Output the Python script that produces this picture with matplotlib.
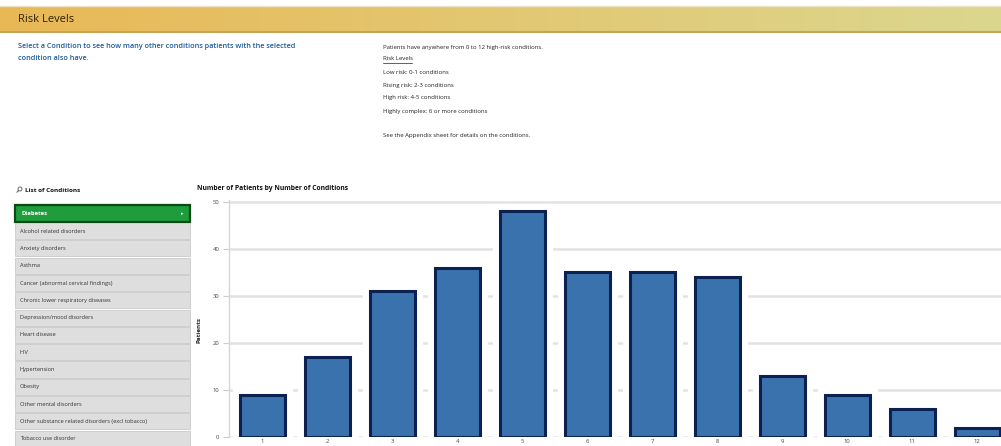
import matplotlib.pyplot as plt
from matplotlib.patches import Rectangle, Circle
import numpy as np

# data
num_conditions = [1, 2, 3, 4, 5, 6, 7, 8, 9, 10, 11, 12]
patients = [9, 17, 31, 36, 48, 35, 35, 34, 13, 9, 6, 2]
y_ticks = [0, 10, 20, 30, 40, 50]

conditions = [
    "Diabetes",
    "Alcohol related disorders",
    "Anxiety disorders",
    "Asthma",
    "Cancer (abnormal cervical findings)",
    "Chronic lower respiratory diseases",
    "Depression/mood disorders",
    "Heart disease",
    "HIV",
    "Hypertension",
    "Obesity",
    "Other mental disorders",
    "Other substance related disorders (excl tobacco)",
    "Tobacco use disorder",
]

info_lines = [
    "Patients have anywhere from 0 to 12 high-risk conditions.",
    "Risk Levels",
    "Low risk: 0-1 conditions",
    "Rising risk: 2-3 conditions",
    "High risk: 4-5 conditions",
    "Highly complex: 6 or more conditions",
    "",
    "See the Appendix sheet for details on the conditions.",
]

W, H = 1001, 446
plt.rcParams['font.family'] = ['Open Sans', 'DejaVu Sans']
fig = plt.figure(figsize=(W / 100, H / 100), dpi=100)

# overlay axes in pixel coordinates
bg = fig.add_axes([0, 0, 1, 1])
bg.set_xlim(0, W)
bg.set_ylim(H, 0)
bg.axis('off')

# header bar with gradient
grad = np.linspace(0, 1, 256)
c0 = np.array([0.914, 0.722, 0.337])
c1 = np.array([0.859, 0.843, 0.561])
img = (c0[None, :] * (1 - grad[:, None]) + c1[None, :] * grad[:, None])[None, :, :]
bg.imshow(img, extent=[0, W, 32, 6], aspect='auto', zorder=1)
bg.plot([0, W], [32, 32], color='#c4a654', lw=1.5, zorder=2)
bg.plot([0, W], [5.5, 5.5], color='#ece3c4', lw=1, zorder=2)
bg.text(18, 19, "Risk Levels", fontsize=8, color='#2b2208', va='center', ha='left', zorder=3)

bg.text(18, 47, "Select a Condition to see how many other conditions patients with the selected",
        fontsize=5.2, color='#1d5a9c', fontweight='semibold', va='center')
bg.text(18, 59, "condition also have.", fontsize=5.2, color='#1d5a9c', fontweight='semibold', va='center')

info_y = [47, 59, 72, 85, 98, 111, 124, 136]
for line, y in zip(info_lines, info_y):
    bg.text(383, y, line, fontsize=4.3, color='#222222', va='center')
    if line == "Risk Levels":
        bg.plot([383, 412], [y + 3.5, y + 3.5], color='#222222', lw=0.5)

# list of conditions (magnifier icon drawn as a shape)
bg.add_patch(Circle((20, 189), 2, fill=False, edgecolor='#555555', lw=0.6))
bg.plot([18.6, 17], [190.4, 192.2], color='#555555', lw=0.7)
bg.text(25, 190, "List of Conditions", fontsize=4.6, fontweight='bold', color='#111111', va='center')
row_h = 17.3
bg.add_patch(Rectangle((15, 205), 175, 17, facecolor='#1f9c3c', edgecolor='#0a4a16', lw=1.6, zorder=3))
bg.text(21, 213.5, conditions[0], fontsize=4.2, color='white', fontweight='bold', va='center', zorder=4)
bg.text(182, 214, "\u25b8", fontsize=3.5, color='white', va='center', ha='center', zorder=4)
for i, name in enumerate(conditions[1:]):
    top = 223 + i * row_h
    bg.add_patch(Rectangle((15, top), 175, row_h - 1.2, facecolor='#dedede', edgecolor='#cacaca',
                           lw=0.6, zorder=3))
    bg.text(20, top + row_h / 2 - 0.5, name, fontsize=4.1, color='#333333', va='center', zorder=4)

bg.text(197, 188, "Number of Patients by Number of Conditions", fontsize=4.9, fontweight='bold',
        color='#111111', va='center')

# bar chart
ax_l, ax_r, ax_b, ax_t = 229, 1001, 437, 200
ax = fig.add_axes([ax_l / W, (H - ax_b) / H, (ax_r - ax_l) / W, (ax_b - ax_t) / H])
ax.set_xlim(0.49, 0.49 + (ax_r - ax_l) / 65)
ax.set_ylim(0, 50.4)
ax.set_yticks(y_ticks)
for yv in y_ticks:
    ax.axhline(yv, color='#e3e3e3', lw=1.8, zorder=0)

ax.bar(num_conditions, patients, width=0.69, color='white', edgecolor='white', lw=11,
       joinstyle='miter', zorder=1)
ax.bar(num_conditions, patients, width=0.69, color='#3a72ad', edgecolor='#0b2152', lw=2.2, zorder=2)

ax.set_xticks(num_conditions)
ax.set_xticklabels([str(n) for n in num_conditions])
ax.tick_params(axis='x', length=0, pad=1.5, labelsize=4.2, labelcolor='#444444')
ax.tick_params(axis='y', length=4, width=0.8, color='#cccccc', pad=3, labelsize=4.2, labelcolor='#444444')
for s in ['top', 'right', 'bottom']:
    ax.spines[s].set_visible(False)
ax.spines['left'].set_color('#d6d6d6')
ax.spines['left'].set_linewidth(1)
ax.set_ylabel("Patients", fontsize=4.5, fontweight='bold', color='#222222')
ax.yaxis.set_label_coords(-0.035, 0.45)
ax.patch.set_alpha(0)

fig.savefig("out.png", dpi=100)
